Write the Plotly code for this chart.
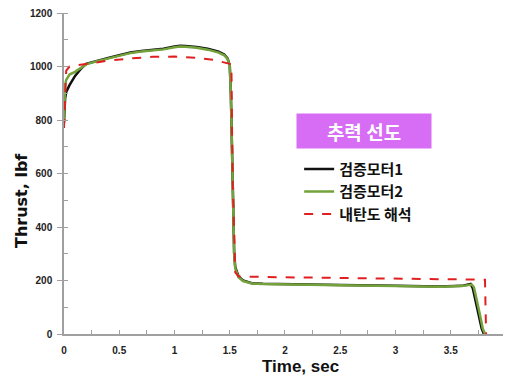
import plotly.graph_objects as go

# ---- data ----
t_m1 = [0.0, 0.01, 0.02, 0.05, 0.1, 0.15, 0.2, 0.3, 0.4, 0.5, 0.6, 0.7, 0.8, 0.9, 1.0, 1.05, 1.1,
        1.2, 1.3, 1.4, 1.45, 1.48, 1.5, 1.51, 1.52, 1.53, 1.54, 1.55, 1.58, 1.62, 1.7, 1.8, 2.0,
        2.5, 3.0, 3.4, 3.6, 3.66, 3.68, 3.7, 3.72, 3.75, 3.78, 3.8]
f_m1 = [790, 880, 905, 930, 965, 990, 1010, 1022, 1032, 1042, 1052, 1058, 1062, 1066, 1075, 1078, 1077,
        1073, 1066, 1055, 1045, 1030, 1005, 900, 700, 450, 300, 250, 215, 200, 190, 188, 186,
        183, 180, 178, 180, 184, 187, 170, 130, 70, 20, 0]

t_m2 = [0.0, 0.01, 0.02, 0.05, 0.1, 0.15, 0.2, 0.3, 0.4, 0.5, 0.6, 0.7, 0.8, 0.9, 1.0, 1.05, 1.1,
        1.2, 1.3, 1.4, 1.45, 1.48, 1.5, 1.51, 1.52, 1.53, 1.54, 1.55, 1.58, 1.62, 1.7, 1.8, 2.0,
        2.5, 3.0, 3.4, 3.6, 3.66, 3.69, 3.71, 3.73, 3.76, 3.79, 3.81]
f_m2 = [800, 930, 950, 970, 980, 995, 1008, 1020, 1030, 1040, 1050, 1056, 1060, 1064, 1072, 1075, 1074,
        1070, 1063, 1052, 1042, 1028, 1003, 900, 700, 450, 300, 245, 212, 198, 189, 187, 185,
        182, 179, 177, 179, 182, 185, 175, 140, 80, 20, 0]

t_pred = [0.0, 0.02, 0.05, 0.1, 0.2, 0.4, 0.6, 0.8, 1.0, 1.2, 1.35, 1.45, 1.5, 1.515, 1.525, 1.55,
          1.58, 2.0, 3.0, 3.6, 3.81, 3.82]
f_pred = [770, 985, 1000, 1003, 1010, 1022, 1030, 1036, 1037, 1032, 1025, 1015, 1010, 1005, 600, 230,
          215, 212, 208, 205, 203, 0]

x_ticks = [0, 0.5, 1, 1.5, 2, 2.5, 3, 3.5, 4]
x_tick_labels = ["0", "0.5", "1", "1.5", "2", "2.5", "3", "3.5", "4"]

names = ["검증모터1", "검증모터2", "내탄도 해석"]
legend_title = "추력 선도"
x_title = "Time, sec"
y_title = "Thrust, lbf"

KFONT = "Noto Sans CJK KR"

fig = go.Figure()
fig.add_trace(go.Scatter(x=t_m1, y=f_m1, mode="lines", name=names[0],
                         line=dict(color="#111111", width=2.5)))
fig.add_trace(go.Scatter(x=t_m2, y=f_m2, mode="lines", name=names[1],
                         line=dict(color="#74a23a", width=2.5)))
fig.add_trace(go.Scatter(x=t_pred, y=f_pred, mode="lines", name=names[2],
                         line=dict(color="#e02020", width=2, dash="dash")))

axis_col = "#a0a0a0"
tick_font = dict(family="Liberation Sans", size=10, color="#222222", weight="bold")

# page body has an 8px margin: offsets reduced by 8, extra room on the right for the last label
fig.update_layout(
    width=511, height=370,
    margin=dict(l=56, r=13, t=5, b=44),
    paper_bgcolor="white", plot_bgcolor="white",
    showlegend=True,
    legend=dict(x=0.532, y=0.565, xanchor="left", yanchor="top",
                font=dict(family=KFONT, size=15, color="#111111", weight="bold"),
                bgcolor="rgba(0,0,0,0)", tracegroupgap=0, itemwidth=30),
    xaxis=dict(range=[0, 4.0001], tickmode="array", tickvals=x_ticks, ticktext=x_tick_labels,
               showgrid=False, zeroline=False, automargin=False,
               showline=True, linecolor=axis_col, linewidth=1.5,
               ticks="inside", ticklen=4, tickwidth=1, tickcolor=axis_col,
               minor=dict(tickmode="linear", tick0=0, dtick=0.25, ticks="inside", ticklen=4,
                          tickcolor=axis_col),
               tickfont=tick_font, ticklabelstandoff=6, ticklabeloverflow="allow"),
    yaxis=dict(range=[0, 1200], dtick=200, showgrid=False, zeroline=False, automargin=False,
               showline=True, linecolor=axis_col, linewidth=1.5,
               ticks="outside", ticklen=5, tickwidth=1, tickcolor=axis_col,
               minor=dict(dtick=100, ticks="inside", ticklen=4, tickcolor=axis_col),
               tickfont=tick_font, ticklabelstandoff=3, ticklabeloverflow="allow"),
)

fig.add_annotation(text=legend_title, xref="paper", yref="paper",
                   x=(364 - 64) / 442, y=(334 - 131) / 321, xanchor="center", yanchor="middle",
                   showarrow=False, bgcolor="#d66df4", width=126, height=26, borderpad=4,
                   font=dict(family=KFONT, size=19, color="white", weight="bold"))
fig.add_annotation(text=x_title, xref="paper", yref="paper",
                   x=(300 - 64) / 442, y=(334 - 367) / 321, xanchor="center", yanchor="middle",
                   showarrow=False,
                   font=dict(family="Liberation Sans", size=17, color="#111111", weight="bold"))
fig.add_annotation(text=y_title, xref="paper", yref="paper",
                   x=(21 - 64) / 442, y=(334 - 201) / 321, xanchor="center", yanchor="middle",
                   showarrow=False, textangle=-90,
                   font=dict(family="DejaVu Sans", size=16, color="#111111", weight="bold"))

fig.write_html("out.html")
